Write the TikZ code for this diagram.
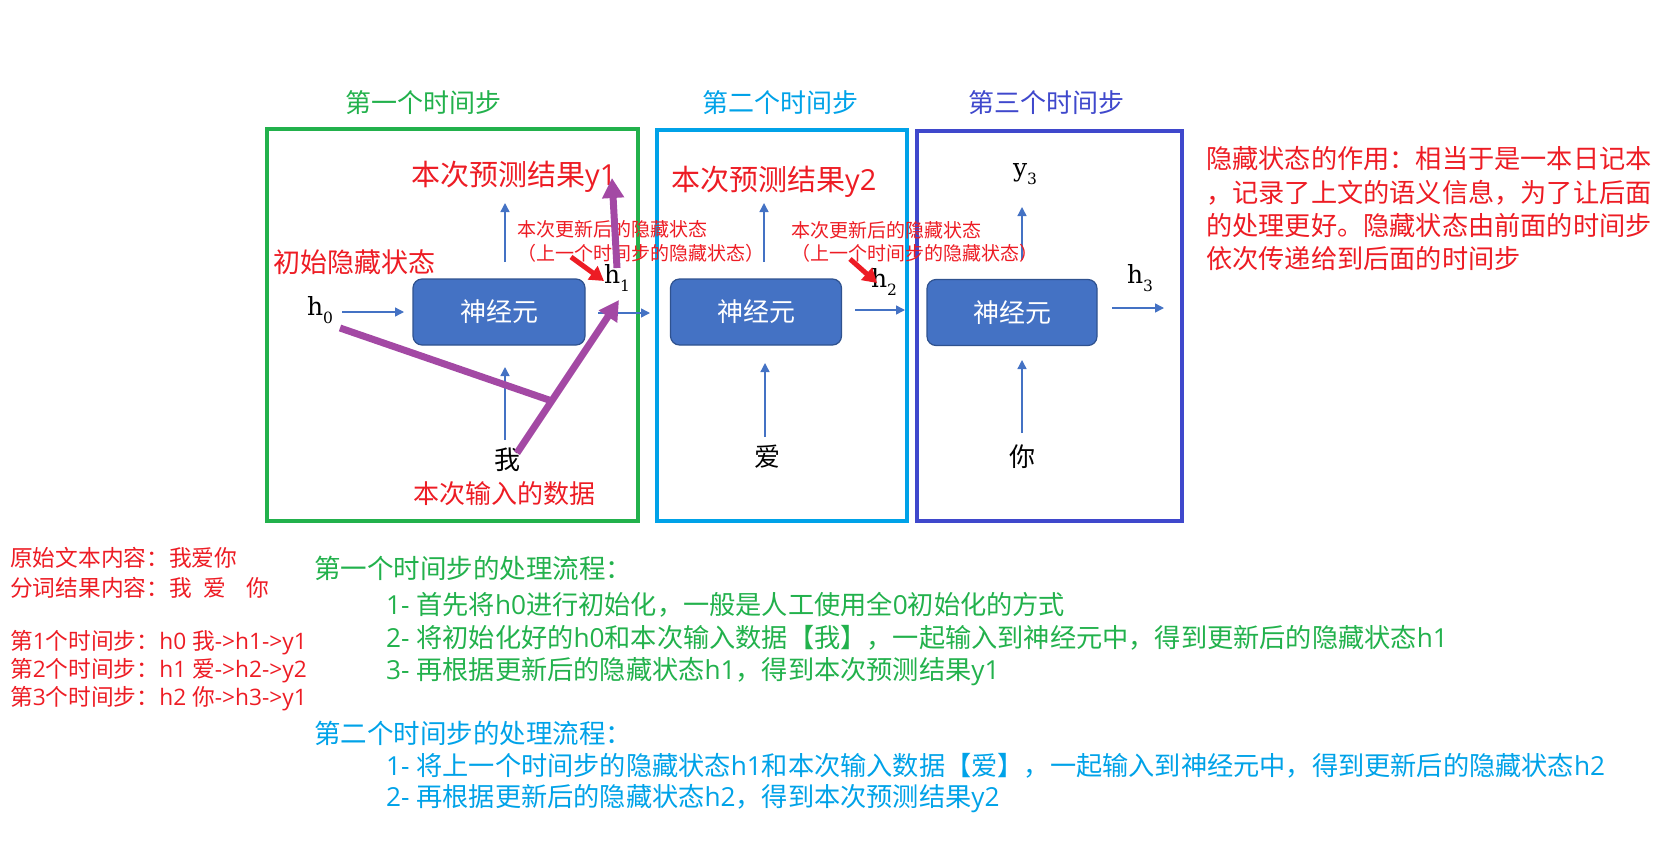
\documentclass[tikz,border=0pt]{standalone}
\usepackage{fontspec}
\setmainfont{Noto Sans CJK SC}
\newfontfamily\hfont{DejaVu Serif}
\newfontfamily\lat{Open Sans}
\newcommand\la[1]{{\lat #1}}
\usetikzlibrary{arrows.meta}
\definecolor{grn}{HTML}{22B14C}
\definecolor{cyn}{HTML}{00A2E8}
\definecolor{ind}{HTML}{3F48CC}
\definecolor{rd}{HTML}{ED1C24}
\definecolor{prp}{HTML}{A349A4}
\definecolor{nfill}{HTML}{4472C4}
\definecolor{nbord}{HTML}{2F528F}
\newcommand\fs[1]{\fontsize{#1}{#1}\selectfont}
\newcommand\hsub[2]{#1\raisebox{-0.3em}{\fontsize{15.5}{15.5}\selectfont #2}}
\tikzset{
  frame/.style={draw, line width=4pt, inner sep=0pt},
  neuron/.style={draw=nbord, fill=nfill, rounded corners=9pt, line width=1.2pt,
    minimum height=66pt, text=white, font=\fs{26}},
  txt/.style={inner sep=0pt, anchor=west},
  title/.style={inner sep=0pt, font=\fs{26}},
  hlab/.style={inner sep=0pt, font=\hfont\fs{25}},
  word/.style={inner sep=0pt, font=\fs{26}},
  thin/.style={draw=nfill, line width=1.4pt, -{Triangle[length=9pt,width=9pt]}},
  purple/.style={draw=prp, line width=7pt},
  parrow/.style={purple, -{Triangle[length=20pt,width=21pt]}},
  rarrow/.style={draw=rd, line width=5pt, -{Triangle[length=14pt,width=16pt]}},
}
\begin{document}
\begin{tikzpicture}[x=1pt,y=-1pt]
\useasboundingbox (0,0) rectangle (1667,846);
% frames
\node[frame, draw=grn, minimum width=371pt, minimum height=392pt] (f1) at (452.5,325) {};
\node[frame, draw=cyn, minimum width=250pt, minimum height=391pt] (f2) at (782,325.5) {};
\node[frame, draw=ind, minimum width=265pt, minimum height=390pt] (f3) at (1049.5,326) {};
% titles
\node[title, text=grn] (t1) at (423,103) {第一个时间步};
\node[title, text=cyn] (t2) at (780,103) {第二个时间步};
\node[title, text=ind] (t3) at (1046,103) {第三个时间步};
% neurons
\node[neuron, minimum width=172pt] (n1) at (499,312) {神经元};
\node[neuron, minimum width=171pt] (n2) at (756,312) {神经元};
\node[neuron, minimum width=170pt] (n3) at (1012,312.5) {神经元};
% hidden state / output labels
\node[hlab] (h0) at (320,310) {\hsub{h}{0}};
\node[hlab] (h1) at (617,278) {\hsub{h}{1}};
\node[hlab] (h2) at (884,282) {\hsub{h}{2}};
\node[hlab] (h3) at (1140,278) {\hsub{h}{3}};
\node[hlab] (y3) at (1025,174) {\hsub{y}{3}};
% input words
\node[word] (w1) at (507,460) {我};
\node[word] (w2) at (767,457) {爱};
\node[word] (w3) at (1022,457) {你};
% thin arrows
\coordinate (a0s) at (342,312); \coordinate (a0e) at (404,312);
\coordinate (a1s) at (598,313); \coordinate (a1e) at (650,313);
\coordinate (a2s) at (855,310); \coordinate (a2e) at (905,310);
\coordinate (a3s) at (1112,308); \coordinate (a3e) at (1164,308);
\coordinate (u1s) at (505,262); \coordinate (u1e) at (505,203);
\coordinate (u2s) at (764,262); \coordinate (u2e) at (764,203);
\coordinate (u3s) at (1022,260); \coordinate (u3e) at (1022,207);
\coordinate (i1s) at (505,440); \coordinate (i1e) at (505,367);
\coordinate (i2s) at (765,437); \coordinate (i2e) at (765,363);
\coordinate (i3s) at (1022,433); \coordinate (i3e) at (1022,360);
\foreach \s/\e in {a0s/a0e,a1s/a1e,a2s/a2e,a3s/a3e,u1s/u1e,u2s/u2e,u3s/u3e,i1s/i1e,i2s/i2e,i3s/i3e}
  \draw[thin] (\s) -- (\e);
% red annotations
\node[txt, text=rd, font=\fs{29}] (y1lab) at (411,177) {本次预测结果\la{y1}};
\node[txt, text=rd, font=\fs{29}] (y2lab) at (671,182) {本次预测结果\la{y2}};
\node[txt, text=rd, font=\fs{19}] (s1a) at (517,229) {本次更新后的隐藏状态};
\node[txt, text=rd, font=\fs{19}] (s1b) at (517,253) {（上一个时间步的隐藏状态）};
\node[txt, text=rd, font=\fs{19}] (s2a) at (791,230) {本次更新后的隐藏状态};
\node[txt, text=rd, font=\fs{19}] (s2b) at (791,253) {（上一个时间步的隐藏状态）};
\node[txt, text=rd, font=\fs{27}] (init) at (273,262) {初始隐藏状态};
\node[txt, text=rd, font=\fs{26}] (inp) at (413,494) {本次输入的数据};
% right note
\node[txt, text=rd, font=\fs{26.2}] (r1) at (1206,159) {隐藏状态的作用：相当于是一本日记本};
\node[txt, text=rd, font=\fs{26.2}] (r2) at (1206,193) {，记录了上文的语义信息，为了让后面};
\node[txt, text=rd, font=\fs{26.2}] (r3) at (1206,226) {的处理更好。隐藏状态由前面的时间步};
\node[txt, text=rd, font=\fs{26.2}] (r4) at (1206,259) {依次传递给到后面的时间步};
% left note
\node[txt, text=rd, font=\fs{22.7}] (l1) at (10,558) {原始文本内容：我爱你};
\node[txt, text=rd, font=\fs{22.7}] (l2) at (10,588) {分词结果内容：我\hspace{12pt}爱\hspace{20pt}你};
\node[txt, text=rd, font=\fs{22.7}] (l3) at (10,643) {第\la{1}个时间步：\la{h0 }我\la{->h1->y1}};
\node[txt, text=rd, font=\fs{22.7}] (l4) at (10,671) {第\la{2}个时间步：\la{h1 }爱\la{->h2->y2}};
\node[txt, text=rd, font=\fs{22.7}] (l5) at (10,699) {第\la{3}个时间步：\la{h2 }你\la{->h3->y1}};
% process descriptions
\node[txt, text=grn, font=\fs{26.5}] (g0) at (314,568) {第一个时间步的处理流程：};
\node[txt, text=grn, font=\fs{26.2}] (g1) at (386,605) {\la{1- }首先将\la{h0}进行初始化，一般是人工使用全\la{0}初始化的方式};
\node[txt, text=grn, font=\fs{26.2}] (g2) at (386,638) {\la{2- }将初始化好的\la{h0}和本次输入数据【我】，一起输入到神经元中，得到更新后的隐藏状态\la{h1}};
\node[txt, text=grn, font=\fs{26.2}] (g3) at (386,672) {\la{3- }再根据更新后的隐藏状态\la{h1}，得到本次预测结果\la{y1}};
\node[txt, text=cyn, font=\fs{26.5}] (c0) at (314,733) {第二个时间步的处理流程：};
\node[txt, text=cyn, font=\fs{26.2}] (c1) at (386,766) {\la{1- }将上一个时间步的隐藏状态\la{h1}和本次输入数据【爱】，一起输入到神经元中，得到更新后的隐藏状态\la{h2}};
\node[txt, text=cyn, font=\fs{26.2}] (c2) at (386,799) {\la{2- }再根据更新后的隐藏状态\la{h2}，得到本次预测结果\la{y2}};
% purple strokes
\coordinate (p1s) at (340,328); \coordinate (p1e) at (549,400);
\coordinate (p2s) at (517,453); \coordinate (p2e) at (619,300);
\coordinate (p3s) at (617,268); \coordinate (p3e) at (612,178);
\draw[purple] (p1s) -- (p1e);
\draw[parrow] (p2s) -- (p2e);
\draw[parrow] (p3s) -- (p3e);
% red arrows
\coordinate (r1s) at (571,257); \coordinate (r1e) at (604,281);
\coordinate (r2s) at (850,259); \coordinate (r2e) at (877,283);
\draw[rarrow] (r1s) -- (r1e);
\draw[rarrow] (r2s) -- (r2e);
\end{tikzpicture}
\end{document}
